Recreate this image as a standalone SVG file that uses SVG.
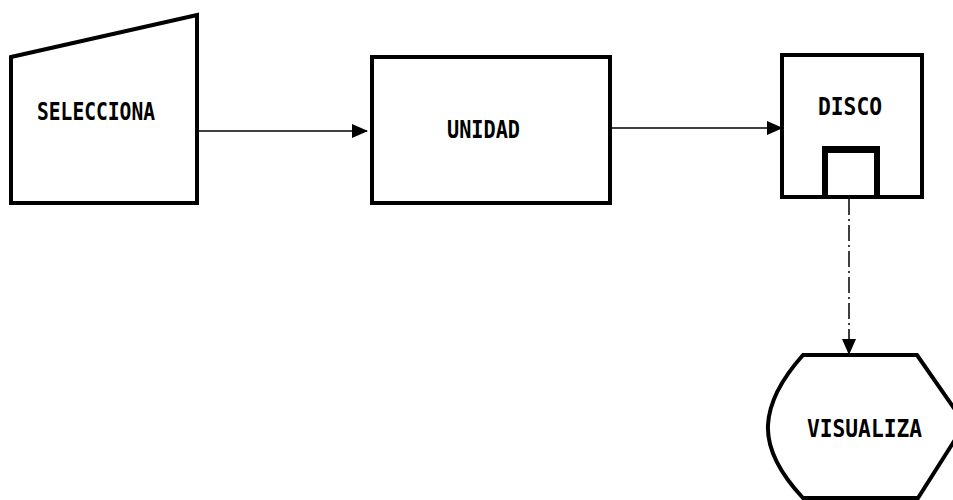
<svg xmlns="http://www.w3.org/2000/svg" width="953" height="500" viewBox="0 0 953 500">
<style>
.shape{fill:#fff;stroke:#000;stroke-width:4;stroke-linejoin:miter}
.lbl{font-family:"DejaVu Sans Mono","Liberation Mono",monospace;font-weight:bold;font-size:24px;fill:#000}
.conn{fill:none;stroke:#000;stroke-width:1.5}
</style>
<defs>
<marker id="ah" markerWidth="16" markerHeight="16" refX="15" refY="8" orient="auto" markerUnits="userSpaceOnUse">
<path d="M0,1 L16,8 L0,15 Z" fill="#000"/>
</marker>
</defs>
<rect width="953" height="500" fill="#fff"/>
<g id="connectors">
<line class="conn" x1="198" y1="131" x2="367" y2="131" marker-end="url(#ah)"/>
<line class="conn" x1="611" y1="128" x2="782" y2="128" marker-end="url(#ah)"/>
<line class="conn" x1="849" y1="199" x2="849" y2="354" stroke-dasharray="16 4 2 4" marker-end="url(#ah)"/>
</g>
<g id="selecciona">
<polygon class="shape" points="11,57 197,15 197,203 11,203"/>
<text class="lbl" x="37" y="120" textLength="118" lengthAdjust="spacingAndGlyphs">SELECCIONA</text>
</g>
<g id="unidad">
<rect class="shape" x="372" y="57" width="238" height="146"/>
<text class="lbl" x="447" y="138" textLength="73" lengthAdjust="spacingAndGlyphs">UNIDAD</text>
</g>
<g id="disco">
<rect class="shape" x="782" y="55" width="140" height="142"/>
<path d="M825,197 V150 H877 V197" fill="none" stroke="#000" stroke-width="6"/>
<rect x="822" y="146" width="58" height="6" fill="#000"/>
<text class="lbl" x="818" y="115" textLength="64" lengthAdjust="spacingAndGlyphs">DISCO</text>
</g>
<g id="visualiza">
<path class="shape" d="M803,355 H917 L965,424 L918,498 H803 C775,468 767,445 768,425 C769,405 778,383 803,355 Z"/>
<text class="lbl" x="807" y="437" textLength="115" lengthAdjust="spacingAndGlyphs">VISUALIZA</text>
</g>
</svg>
